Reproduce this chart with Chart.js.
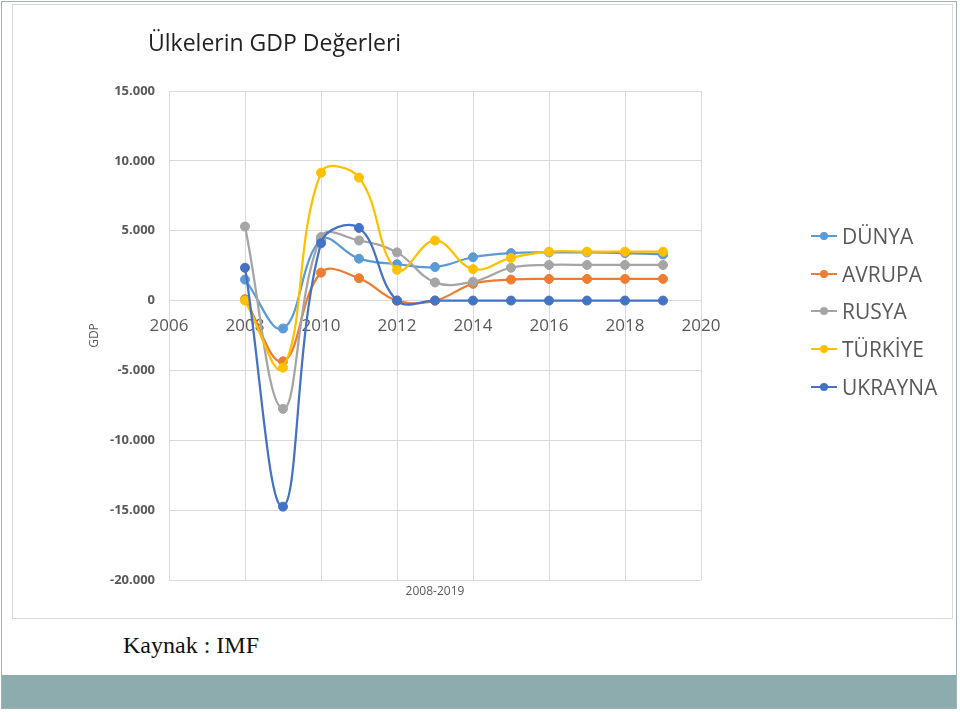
<!DOCTYPE html>
<html lang="tr">
<head>
<meta charset="utf-8">
<title>Ülkelerin GDP Değerleri</title>
<script src="https://cdn.jsdelivr.net/npm/chart.js@4.4.1/dist/chart.umd.min.js"></script>
<style>
  html, body { margin: 0; padding: 0; background: #fff; }
  body { width: 960px; height: 712px; position: relative; overflow: hidden; font-family: 'Open Sans', sans-serif; }
  .slayt { position: absolute; left: 1px; top: 1px; width: 956px; height: 708px; box-sizing: border-box; border: 1px solid #9fb1b1; }
  .kutu { position: absolute; left: 12px; top: 4px; width: 941px; height: 615px; box-sizing: border-box; border: 1px solid #d9d9d9; }
  #grafik { position: absolute; left: 0; top: 0; }
  .baslik { position: absolute; left: 148px; top: 26px; font-family: 'Open Sans', sans-serif; font-size: 23px; color: #222; white-space: nowrap; }
  .kaynak { position: absolute; left: 123px; top: 632px; font-family: 'Liberation Serif', serif; font-size: 24px; color: #111; }
  .bant { position: absolute; left: 2px; top: 675px; width: 954px; height: 33px; background: #8cacad; }
  #lejant { position: absolute; left: 811px; top: 217px; }
  .satir { height: 37.75px; display: flex; align-items: center; font-size: 21px; color: #595959; white-space: nowrap; }
  .isaret { position: relative; width: 26px; height: 8px; margin-right: 5px; }
  .isaret .cizgi { position: absolute; left: 0; right: 0; top: 3px; height: 2px; }
  .isaret .nokta { position: absolute; left: 9px; top: 0; width: 8px; height: 8px; border-radius: 50%; }
</style>
</head>
<body>
<div class="slayt"></div>
<div class="kutu"><canvas id="grafik" width="939" height="613"></canvas></div>
<div class="baslik">Ülkelerin GDP Değerleri</div>
<div id="lejant"></div>
<div class="kaynak">Kaynak : IMF</div>
<div class="bant"></div>
<script>
// yıllar ve ülke serileri
const yillar = [2008, 2009, 2010, 2011, 2012, 2013, 2014, 2015, 2016, 2017, 2018, 2019];
const ulkeler = ['DÜNYA', 'AVRUPA', 'RUSYA', 'TÜRKİYE', 'UKRAYNA'];
const dunya   = [1500, -2000, 4350, 3000, 2600, 2400, 3100, 3400, 3450, 3450, 3400, 3300];
const avrupa  = [100, -4350, 2000, 1600, 0, 0, 1200, 1500, 1550, 1550, 1550, 1550];
const rusya   = [5300, -7750, 4550, 4300, 3450, 1300, 1350, 2350, 2550, 2550, 2550, 2550];
const turkiye = [0, -4800, 9150, 8800, 2200, 4300, 2250, 3050, 3500, 3500, 3500, 3500];
const ukrayna = [2350, -14750, 4100, 5200, 0, 0, 0, 0, 0, 0, 0, 0];
const seriler = [dunya, avrupa, rusya, turkiye, ukrayna];
const renkler = ['#5b9bd5', '#ed7d31', '#a5a5a5', '#ffc000', '#4472c4'];

const xEtiketleri = { min: 2006, max: 2020, adim: 2 };
const yEtiketleri = { min: -20000, max: 15000, adim: 5000 };

const gri = '#595959';
const izgara = '#d9d9d9';

// 15000 -> "15.000"
function binlik(v) {
    const s = String(Math.abs(v)).replace(/\B(?=(\d{3})+(?!\d))/g, '.');
    return (v < 0 ? '-' : '') + s;
}

Chart.defaults.font.family = "'Open Sans', sans-serif";
Chart.defaults.color = gri;

const veriSetleri = ulkeler.map((ad, i) => ({
    label: ad,
    data: yillar.map((yil, j) => ({ x: yil, y: seriler[i][j] })),
    borderColor: renkler[i],
    backgroundColor: renkler[i],
    borderWidth: 2.25,
    pointRadius: 4.5,
    pointBorderWidth: 1,
    tension: 0.4,
    order: ulkeler.length - i, // son seri en üstte
}));

const grafik = new Chart(document.getElementById('grafik').getContext('2d'), {
    type: 'line',
    data: { datasets: veriSetleri },
    options: {
        responsive: false,
        animation: false,
        layout: { padding: { left: 70, right: 251, top: 86, bottom: 0 } },
        plugins: { legend: { display: false }, tooltip: { enabled: false } },
        scales: {
            x: {
                type: 'linear',
                position: { y: 0 },
                min: xEtiketleri.min,
                max: xEtiketleri.max,
                grid: { color: izgara, drawTicks: false },
                border: { color: izgara },
                ticks: {
                    stepSize: xEtiketleri.adim,
                    padding: 15,
                    color: gri,
                    font: { size: 17 },
                    callback: (v) => String(v),
                },
            },
            x2: {
                type: 'linear',
                position: 'bottom',
                min: xEtiketleri.min,
                max: xEtiketleri.max,
                grid: { display: false },
                border: { display: false },
                ticks: { display: false },
                title: {
                    display: true,
                    text: '2008-2019',
                    color: gri,
                    font: { size: 12 },
                    padding: { top: 0, bottom: 19 },
                },
                afterFit: (s) => { s.height = 38; },
            },
            y: {
                min: yEtiketleri.min,
                max: yEtiketleri.max,
                grid: { color: izgara, drawTicks: false },
                border: { color: izgara },
                ticks: {
                    stepSize: yEtiketleri.adim,
                    padding: 14,
                    color: gri,
                    font: { size: 13, weight: 'bold' },
                    callback: (v) => binlik(v),
                },
                title: {
                    display: true,
                    text: 'GDP',
                    color: gri,
                    font: { size: 12 },
                    padding: { top: 4, bottom: 0 },
                },
                afterFit: (s) => { s.width = 86; },
            },
        },
    },
});

// HTML lejant, veri setlerinden üretiliyor
const lejant = document.getElementById('lejant');
grafik.data.datasets.forEach((ds) => {
    const satir = document.createElement('div');
    satir.className = 'satir';
    satir.innerHTML =
        `<span class="isaret"><span class="cizgi" style="background:${ds.borderColor}"></span>` +
        `<span class="nokta" style="background:${ds.borderColor}"></span></span>` +
        `<span>${ds.label}</span>`;
    lejant.appendChild(satir);
});
</script>
</body>
</html>
